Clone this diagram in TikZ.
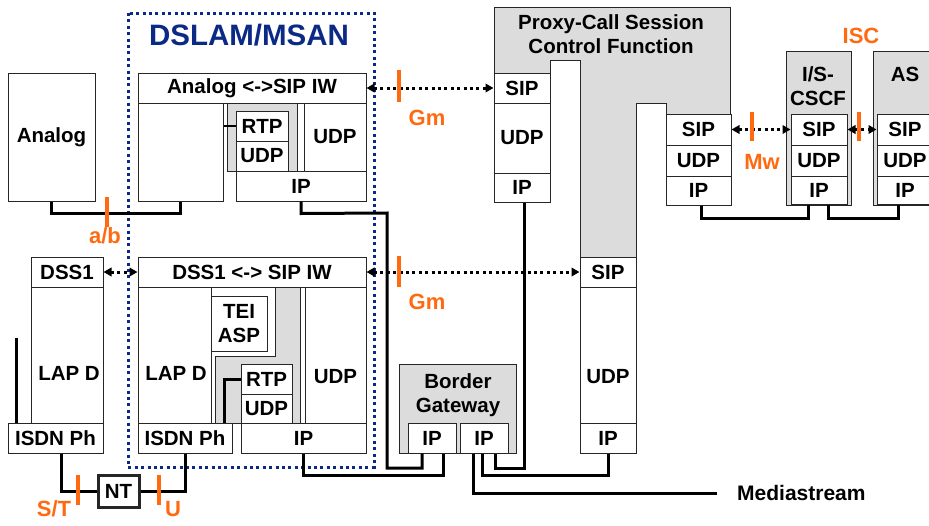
\documentclass[tikz,border=0pt]{standalone}
\usepackage{fontspec}
\setmainfont{Liberation Sans}
\usetikzlibrary{arrows.meta}

\definecolor{ifgray}{HTML}{DCDCDC}
\definecolor{ifblue}{HTML}{0B2A86}
\definecolor{iforange}{HTML}{FF6A10}

\newcommand{\boxfont}{\fontsize{20.5}{24.5}\selectfont\bfseries}

\begin{document}
\begin{tikzpicture}[x=1pt, y=-1pt,
    box/.style={draw=black!85, line width=1pt, fill=white, inner sep=0pt, font=\boxfont},
    shade/.style={draw=black!85, line width=1pt, fill=ifgray},
    link/.style={line width=3pt},
    sig/.style={line width=3pt, dash pattern=on 3pt off 3.4pt,
        {Triangle[length=8pt,width=8.5pt]}-{Triangle[length=8pt,width=8.5pt]}},
    refbar/.style={iforange, line width=4pt},
    reflbl/.style={iforange, inner sep=0pt, font=\fontsize{22}{24}\selectfont\bfseries}]
    \useasboundingbox (0,0) rectangle (929,525);
    \clip (0,0) rectangle (929,525);

    % DSLAM / MSAN frame
    \draw[ifblue, line width=3pt, dash pattern=on 3pt off 3.4pt] (128,13) rectangle (374,467);
    \node[ifblue, font=\fontsize{29.5}{30}\selectfont\bfseries] (dslam) at (249,35) {DSLAM/MSAN};

    % Analog terminal
    \node[box, minimum width=87, minimum height=128] (analog) at (51.5,137) {Analog};

    % Analog <-> SIP interworking
    \node[box, minimum width=228, minimum height=30] (anHead) at (252,88) {Analog <->SIP IW};
    \node[box, minimum width=85, minimum height=98] (anBody) at (180.5,152) {};
    \draw[shade] (227,103) rectangle (297,171);
    \draw[box] (297,103) rectangle (304,171);
    \node[box, minimum width=52, minimum height=30] (anRTP) at (262,126) {RTP};
    \node[box, minimum width=52, minimum height=30] (anUDPs) at (262,156) {UDP};
    \node[box, minimum width=62, minimum height=68] (anUDP) at (335,137) {UDP};
    \node[box, minimum width=130, minimum height=30] (anIP) at (301,186) {IP};
    \draw[line width=2pt] (anBody.east |- anRTP.west) -- (anRTP.west);

    % DSS1 <-> SIP interworking
    \node[box, minimum width=228, minimum height=30] (dsHead) at (252,272) {DSS1 <-> SIP IW};
    \node[box, minimum width=73, minimum height=136] (dsLAPD) at (174.5,355) {};
    \node[font=\boxfont] (dsLAPDt) at (176,373) {LAP D};
    \draw[shade] (215,423) -- (215,356) -- (275,356) -- (275,287) -- (300,287) -- (300,423) -- cycle;
    \draw[box] (300,287) rectangle (305,423);
    \node[box, minimum width=56, minimum height=55, align=center] (dsTEI) at (239,323.5) {TEI\\ASP};
    \node[box, minimum width=51, minimum height=30] (dsRTP) at (266.5,379) {RTP};
    \node[box, minimum width=51, minimum height=29] (dsUDPs) at (266.5,408.5) {UDP};
    \node[box, minimum width=61, minimum height=136] (dsUDP) at (335.5,355) {};
    \node[font=\boxfont] (dsUDPt) at (335.5,377) {UDP};
    \node[box, minimum width=94, minimum height=30] (dsISDN) at (185,438) {ISDN Ph};
    \node[box, minimum width=125, minimum height=30] (dsIP) at (303.5,438) {IP};
    \draw[link] ([xshift=-8]dsISDN.north east) |- (dsRTP.west);

    % ISDN terminal
    \node[box, minimum width=72, minimum height=30] (dss1) at (67,272) {DSS1};
    \node[box, minimum width=72, minimum height=136] (lapd) at (67,355) {};
    \node[font=\boxfont] (lapdt) at (69,373) {LAP D};
    \node[box, minimum width=95, minimum height=30] (isdn) at (55.5,438) {ISDN Ph};
    \draw[link] ([xshift=9]isdn.north west) -- ++(0,-85);
    \node[box, line width=3pt, minimum width=41, minimum height=32] (nt) at (118.5,491) {NT};

    % Border gateway
    \draw[shade] (399,364) rectangle (516,453);
    \node[font=\boxfont, align=center] (bgw) at (458,395) {Border\\Gateway};
    \node[box, minimum width=48, minimum height=30] (bgIPa) at (432,438) {IP};
    \node[box, minimum width=48, minimum height=30] (bgIPb) at (484,438) {IP};

    % P-CSCF
    \draw[shade] (494,7) -- (730,7) -- (730,114) -- (666,114) -- (666,103) -- (636,103)
        -- (636,257) -- (580,257) -- (580,60) -- (550,60) -- (550,73) -- (494,73) -- cycle;
    \node[font=\boxfont, align=center] (pcscf) at (611,34) {Proxy-Call Session\\Control Function};
    \node[box, minimum width=56, minimum height=30] (pSIPa) at (522,88) {SIP};
    \node[box, minimum width=56, minimum height=70] (pUDPa) at (522,138) {UDP};
    \node[box, minimum width=56, minimum height=29] (pIPa) at (522,187.5) {IP};
    \node[box, minimum width=56, minimum height=30] (pSIPb) at (608,272) {SIP};
    \node[box, minimum width=56, minimum height=136] (pUDPb) at (608,355) {};
    \node[font=\boxfont] (pUDPbt) at (608,377) {UDP};
    \node[box, minimum width=56, minimum height=30] (pIPb) at (608,438) {IP};
    \node[box, minimum width=65, minimum height=31] (pSIPc) at (698.5,129.5) {SIP};
    \node[box, minimum width=65, minimum height=31] (pUDPc) at (698.5,160.5) {UDP};
    \node[box, minimum width=65, minimum height=29] (pIPc) at (698.5,190.5) {IP};

    % I/S-CSCF and AS
    \draw[shade] (786,51) rectangle (851,205);
    \node[font=\boxfont, align=center] (cscf) at (818,86) {I/S-\\CSCF};
    \node[box, minimum width=56, minimum height=31] (iSIP) at (819,129.5) {SIP};
    \node[box, minimum width=56, minimum height=31] (iUDP) at (819,160.5) {UDP};
    \node[box, minimum width=56, minimum height=28] (iIP) at (819,190) {IP};
    \draw[shade] (873,51) rectangle (940,205);
    \node[font=\boxfont] (as) at (905,74) {AS};
    \node[box, minimum width=56, minimum height=31] (aSIP) at (905,129.5) {SIP};
    \node[box, minimum width=56, minimum height=31] (aUDP) at (905,160.5) {UDP};
    \node[box, minimum width=56, minimum height=28] (aIP) at (905,190) {IP};

    % Bearer links
    \draw[link] (analog.south) -- ++(0,12) -| (anBody.south);
    \draw[link] ([xshift=5.5]isdn.south) |- (nt.west);
    \draw[link] (dsISDN.south) |- (nt.east);
    \draw[link] (anIP.south) -- ++(0,12) -- (387,213) -- (387,468) -| ([xshift=-10]bgIPa.south);
    \draw[link] (dsIP.south) -- ++(0,22) -| ([xshift=11]bgIPa.south);
    \draw[link] ([xshift=2.5]pIPa.south) -- ++(0,266) -| ([xshift=11]bgIPb.south);
    \draw[link] ([xshift=-2]bgIPb.south) -- ++(0,22) -| (pIPb.south);
    \node[anchor=west, inner sep=0pt, font=\fontsize{21}{24}\selectfont\bfseries] (media) at (737,493) {Mediastream};
    \draw[link, shorten >=20pt] ([xshift=-11]bgIPb.south) |- (media.west);
    \draw[link] ([xshift=2.5]pIPc.south) -- ++(0,13) -| ([xshift=-11]iIP.south);
    \draw[link] ([xshift=9]iIP.south) -- ++(0,14) -| ([xshift=-7]aIP.south);

    % Signalling
    \draw[sig] (anHead.east) -- (pSIPa.west);
    \draw[sig] (dsHead.east) -- (pSIPb.west);
    \draw[sig] (dss1.east) -- (dsHead.west);
    \draw[sig] (pSIPc.east) -- (iSIP.west);
    \draw[sig] (iSIP.east) -- (aSIP.west);

    % Reference points
    \draw[refbar] (107,197) -- (107,227);
    \node[reflbl] (ab) at (105,236) {a/b};
    \draw[refbar] (78,475) -- (78,505);
    \node[reflbl] (st) at (54,509) {S/T};
    \draw[refbar] (159,475) -- (159,505);
    \node[reflbl] (u) at (173,509) {U};
    \draw[refbar] (399,70) -- (399,102);
    \node[reflbl] (gma) at (427,118) {Gm};
    \draw[refbar] (399,256) -- (399,287);
    \node[reflbl] (gmb) at (427,302) {Gm};
    \draw[refbar] (752,112) -- (752,141);
    \node[reflbl] (mw) at (762,162) {Mw};
    \draw[refbar] (859,112) -- (859,141);
    \node[reflbl] (isc) at (861,36) {ISC};
\end{tikzpicture}
\end{document}
